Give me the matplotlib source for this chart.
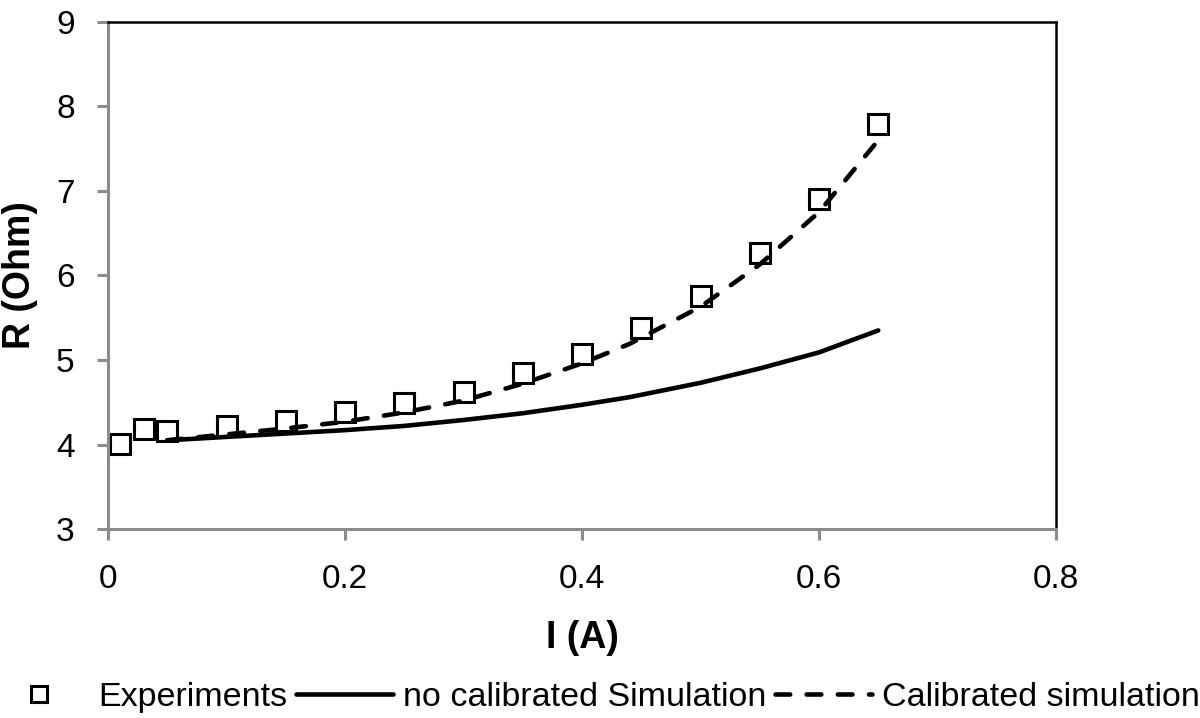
import matplotlib
matplotlib.use("Agg")
import matplotlib.pyplot as plt

plt.rcParams['font.family'] = ['Liberation Sans', 'DejaVu Sans']

# Data
exp_I = [0.01, 0.03, 0.05, 0.10, 0.15, 0.20, 0.25, 0.30, 0.35, 0.40, 0.45, 0.50, 0.55, 0.60, 0.65]
exp_R = [4.01, 4.18, 4.16, 4.22, 4.28, 4.38, 4.49, 4.62, 4.85, 5.07, 5.38, 5.76, 6.27, 6.91, 7.79]

sim_I = [0.05, 0.10, 0.15, 0.20, 0.25, 0.30, 0.35, 0.40, 0.44, 0.50, 0.55, 0.60, 0.65]
nocal_R = [4.05, 4.09, 4.13, 4.17, 4.22, 4.29, 4.37, 4.47, 4.56, 4.73, 4.90, 5.09, 5.35]
cal_R = [4.05, 4.12, 4.19, 4.27, 4.38, 4.52, 4.72, 4.96, 5.19, 5.63, 6.13, 6.75, 7.60]

x_ticks = [0, 0.2, 0.4, 0.6, 0.8]
x_tick_labels = ['0', '0.2', '0.4', '0.6', '0.8']
y_ticks = [3, 4, 5, 6, 7, 8, 9]

fig = plt.figure(figsize=(12, 7.18), dpi=100)
ax = fig.add_axes([0.09, 0.2632, 0.79, 0.7062])

ax.plot(exp_I, exp_R, linestyle='none', marker='s', markersize=14,
        markerfacecolor='white', markeredgecolor='black', markeredgewidth=2.2,
        label='Experiments', zorder=2)
ax.plot(sim_I, nocal_R, color='black', linewidth=3.3, solid_capstyle='round',
        label='no calibrated Simulation', zorder=3)
ax.plot(sim_I, cal_R, color='black', linewidth=3.3, dashes=(3.2, 3.6),
        dash_capstyle='round', label='Calibrated simulation', zorder=3)

ax.set_xlim(0, 0.8)
ax.set_ylim(3, 9)
ax.set_xticks(x_ticks)
ax.set_xticklabels(x_tick_labels)
ax.set_yticks(y_ticks)

for s in ['left', 'bottom']:
    ax.spines[s].set_color('#8c8c8c')
    ax.spines[s].set_linewidth(2.2)
for s in ['top', 'right']:
    ax.spines[s].set_color('black')
    ax.spines[s].set_linewidth(1.8)

ax.tick_params(axis='both', direction='out', length=8, width=2.2, color='#8c8c8c',
               labelsize=24)
ax.tick_params(axis='y', pad=16)
ax.tick_params(axis='x', pad=17)

ax.set_xlabel('I (A)', fontsize=27, fontweight='bold', labelpad=18)
ax.set_ylabel('R (Ohm)', fontsize=27, fontweight='bold')
ax.yaxis.set_label_coords(-0.074, 0.5)

handles, labels = ax.get_legend_handles_labels()
fig.legend(handles, labels, loc='center left', bbox_to_anchor=(-0.019, 0.028), ncol=3,
           frameon=False, fontsize=24.5, handlelength=2.85, handletextpad=0.3,
           columnspacing=0.25, borderaxespad=0, markerscale=0.8)

fig.savefig('out.png', dpi=100)
